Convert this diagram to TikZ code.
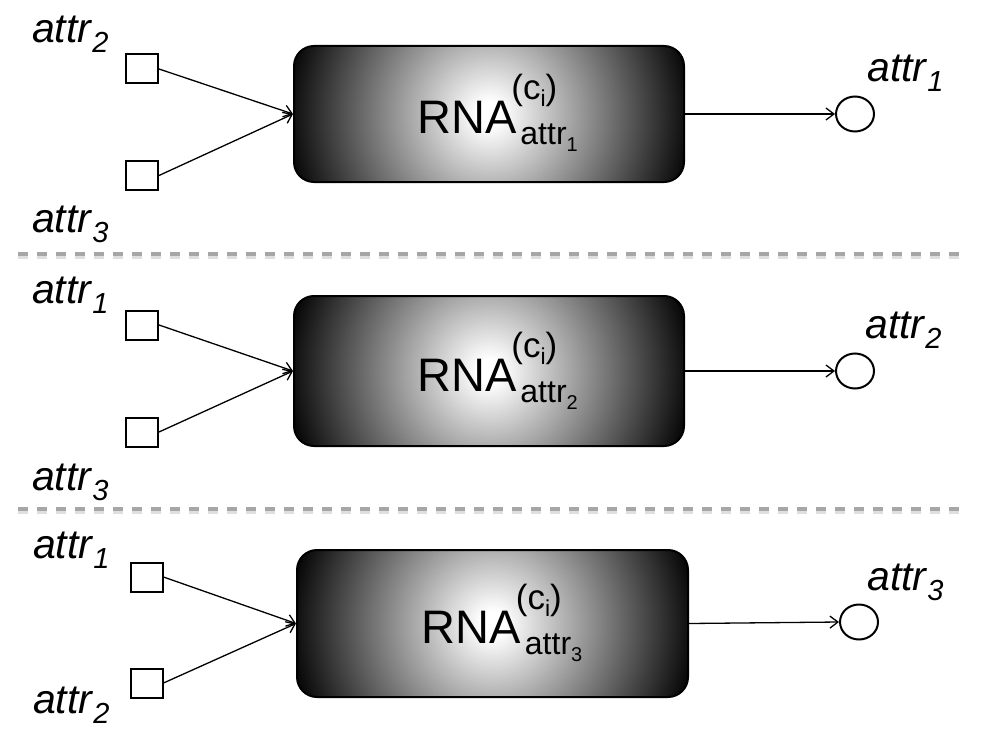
\documentclass[tikz,border=0pt]{standalone}
\usepackage{fontspec}
\setmainfont{Liberation Sans}
\usetikzlibrary{arrows.meta,shapes.geometric}
\pgfdeclareradialshading{rnashade}{\pgfpoint{0bp}{0bp}}{color(0bp)=(white); color(1.5bp)=(white); color(25bp)=(black); color(50bp)=(black)}
\newcommand\rnalabel[1]{{\fontsize{47}{50}\selectfont RNA}\kern-5pt\rlap{\raisebox{34pt}{\fontsize{35}{35}\selectfont (c\raisebox{-7pt}{\fontsize{23}{23}\selectfont i})}}\kern9pt\raisebox{-11pt}{\fontsize{32}{32}\selectfont attr\raisebox{-7pt}{\fontsize{20}{20}\selectfont #1}}}
\newcommand\attrtext[1]{{\itshape\fontsize{41}{48}\selectfont attr\kern1pt\raisebox{-10pt}{\fontsize{29}{30}\selectfont #1}}}
\begin{document}
\begin{tikzpicture}[x=1pt,y=-1pt,
  rnabox/.style={draw=black, line width=2pt, rounded corners=20pt, fill=black,
    path picture={\shade[shading=rnashade] (path picture bounding box.center) circle (208pt);}},
  inbox/.style={draw, line width=2pt, fill=white, minimum width=32pt, minimum height=29pt, inner sep=0pt},
  outnode/.style={draw, ellipse, line width=2pt, fill=white, minimum width=38pt, minimum height=35pt, inner sep=0pt},
  lbl/.style={inner sep=0pt, anchor=base west},
  conn/.style={line width=1.3pt, -{Straight Barb[length=8pt,width=12pt]}},
  sepshadow/.style={draw=gray!25, line width=4pt, dash pattern=on 10pt off 9pt},
  sepline/.style={draw=gray!70, line width=4pt, dash pattern=on 10pt off 9pt}]
\useasboundingbox (0,0) rectangle (992,746);

% separators
\coordinate (d1a) at (18,254); \coordinate (d1b) at (966,254);
\coordinate (d2a) at (18,509); \coordinate (d2b) at (966,509);
\draw[sepshadow] ([yshift=-2.5pt]d1a) -- ([yshift=-2.5pt]d1b);
\draw[sepshadow] ([yshift=-2.5pt]d2a) -- ([yshift=-2.5pt]d2b);
\draw[sepline] (d1a) -- (d1b);
\draw[sepline] (d2a) -- (d2b);

% panel 1
\node[rnabox, minimum width=390pt, minimum height=136pt] (b1) at (489,114) {};
\node[lbl] (r1) at ([xshift=-72pt,yshift=-20pt]b1.center) {\rnalabel{1}};
\node[inbox] (s11) at (142,69) {};
\node[inbox] (s12) at (142,175.5) {};
\node[outnode] (o1) at (855,114) {};
\node[lbl] (l11) at (32,43) {\attrtext{2}};
\node[lbl] (l12) at (32,232) {\attrtext{3}};
\node[lbl] (l13) at (867,82) {\attrtext{1}};
\draw[conn] (s11.east) -- (b1.west);
\draw[conn] (s12.east) -- (b1.west);
\draw[conn] (b1.east) -- (o1.west);

% panel 2
\node[rnabox, minimum width=390pt, minimum height=150pt] (b2) at (489,371) {};
\node[lbl] (r2) at ([xshift=-72pt,yshift=-20pt]b2.center) {\rnalabel{2}};
\node[inbox] (s21) at (142,325) {};
\node[inbox] (s22) at (142,432) {};
\node[outnode] (o2) at (855,371) {};
\node[lbl] (l21) at (32,303) {\attrtext{1}};
\node[lbl] (l22) at (32,490) {\attrtext{3}};
\node[lbl] (l23) at (865,338) {\attrtext{2}};
\draw[conn] (s21.east) -- (b2.west);
\draw[conn] (s22.east) -- (b2.west);
\draw[conn] (b2.east) -- (o2.west);

% panel 3
\node[rnabox, minimum width=391pt, minimum height=147pt] (b3) at (492.5,623.5) {};
\node[lbl] (r3) at ([xshift=-71pt,yshift=-20pt]b3.center) {\rnalabel{3}};
\node[inbox] (s31) at (146.5,577) {};
\node[inbox] (s32) at (146.5,683) {};
\node[outnode] (o3) at (859,622) {};
\node[lbl] (l31) at (33,558) {\attrtext{1}};
\node[lbl] (l32) at (33,713) {\attrtext{2}};
\node[lbl] (l33) at (867,590) {\attrtext{3}};
\draw[conn] (s31.east) -- (b3.west);
\draw[conn] (s32.east) -- (b3.west);
\draw[conn] (b3.east) -- (o3.west);
\end{tikzpicture}
\end{document}
